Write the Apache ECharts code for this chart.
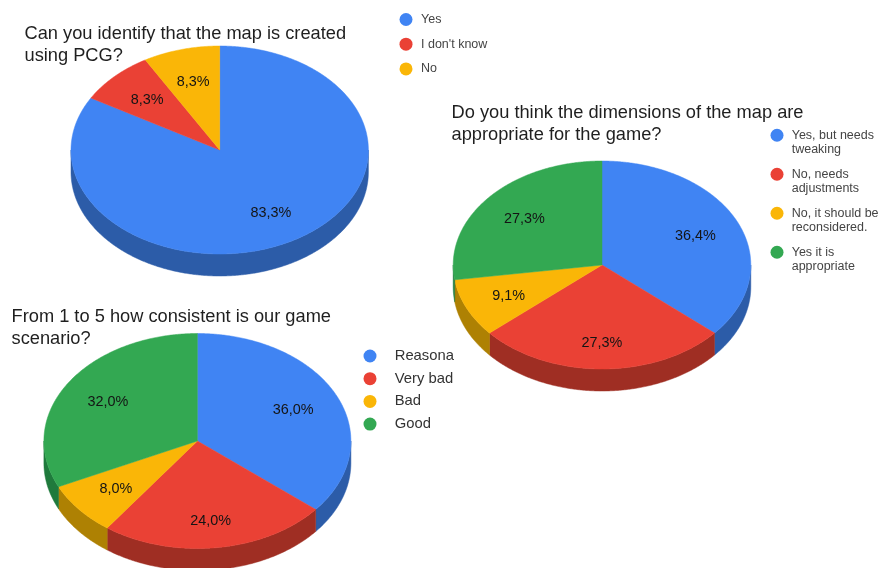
<!DOCTYPE html>
<html>
<head>
<meta charset="utf-8">
<style>html,body{margin:0;padding:0;background:#fff}#chart{width:878px;height:568px}</style>
<script src="https://cdn.jsdelivr.net/npm/echarts@6/dist/echarts.min.js"></script>
</head>
<body>
<div id="chart"></div>
<script>
// Survey answers, as response counts per question
const pcgAnswers = ['Yes', "I don't know", 'No'];
const pcgCounts = [10, 1, 1];
const sizeAnswers = ['Yes, but needs\ntweaking', 'No, needs\nadjustments', 'No, it should be\nreconsidered.', 'Yes it is\nappropriate'];
const sizeCounts = [4, 3, 1, 3];
const storyAnswers = ['Reasona', 'Very bad', 'Bad', 'Good'];
const storyCounts = [9, 6, 2, 8];

const BLUE = '#4084f3', RED = '#ea4135', YELLOW = '#fab607', GREEN = '#33a852';
const pcgColors = [BLUE, RED, YELLOW];
const fourColors = [BLUE, RED, YELLOW, GREEN];
const wallColors = {};
wallColors[BLUE] = '#2c5ca8';
wallColors[RED] = '#9f2e23';
wallColors[YELLOW] = '#ae8103';
wallColors[GREEN] = '#1f7a3c';

const FONT = '"Liberation Sans", Arial, sans-serif';
const DEPTH = 22;

// One tilted pie: centre, ellipse radii and the answers it shows
const pies = [
  { names: pcgAnswers, counts: pcgCounts, colors: pcgColors, cx: 219.7, cy: 150, rx: 148.7, ry: 104 },
  { names: sizeAnswers, counts: sizeCounts, colors: fourColors, cx: 602, cy: 265, rx: 148.8, ry: 104 },
  { names: storyAnswers, counts: storyCounts, colors: fourColors, cx: 197.4, cy: 441, rx: 153.5, ry: 107.5 }
];

function arcPoints(pie, from, to, dy) {
  const pts = [];
  const steps = Math.max(2, Math.ceil((to - from) * 720));
  for (let i = 0; i <= steps; i++) {
    const a = (from + (to - from) * i / steps) * 2 * Math.PI;
    pts.push([pie.cx + pie.rx * Math.sin(a), pie.cy - pie.ry * Math.cos(a) + dy]);
  }
  return pts;
}

// Draws a slice from [startShare, endShare, share]: its outer wall, its face and its percentage
function sliceRenderer(pie, color) {
  return function (params, api) {
    const from = api.value(0), to = api.value(1), share = api.value(2);
    const children = [];
    const wallFrom = Math.max(from, 0.25), wallTo = Math.min(to, 0.75);
    if (wallTo > wallFrom) {
      const top = arcPoints(pie, wallFrom, wallTo, 0);
      const bottom = arcPoints(pie, wallFrom, wallTo, DEPTH).reverse();
      children.push({
        type: 'polygon',
        shape: { points: top.concat(bottom) },
        style: { fill: wallColors[color], stroke: wallColors[color], lineWidth: 0.5 }
      });
    }
    const face = [[pie.cx, pie.cy]].concat(arcPoints(pie, from, to, 0));
    children.push({
      type: 'polygon',
      shape: { points: face },
      style: { fill: color, stroke: color, lineWidth: 0.5 }
    });
    // Labels of slices facing the viewer sit a little further out
    const mid = (from + to) * Math.PI;
    const reachY = Math.abs(mid - Math.PI) < 0.35 ? 0.745 : 0.69;
    children.push({
      type: 'text',
      z2: 10,
      style: {
        x: pie.cx + 0.69 * pie.rx * Math.sin(mid),
        y: pie.cy - reachY * pie.ry * Math.cos(mid) + 1,
        text: (share * 100).toFixed(1).replace('.', ',') + '%',
        align: 'center',
        verticalAlign: 'middle',
        fill: '#141414',
        font: '14.4px ' + FONT
      }
    });
    return { type: 'group', children: children };
  };
}

const series = [];
pies.forEach(function (pie) {
  const total = pie.counts.reduce(function (a, b) { return a + b; }, 0);
  let used = 0;
  pie.counts.forEach(function (count, i) {
    const start = used / total;
    used += count;
    series.push({
      type: 'custom',
      name: pie.names[i],
      coordinateSystem: 'none',
      silent: true,
      itemStyle: { color: pie.colors[i] },
      data: [[start, used / total, count / total]],
      renderItem: sliceRenderer(pie, pie.colors[i])
    });
  });
});

function title(text, left, top) {
  return {
    text: text, left: left, top: top, padding: 0,
    textStyle: { fontFamily: FONT, fontSize: 18.25, fontWeight: 'normal', color: '#1f1f1f', lineHeight: 22 }
  };
}

const chart = echarts.init(document.getElementById('chart'), null, { renderer: 'canvas' });
chart.setOption({
  animation: false,
  backgroundColor: '#ffffff',
  title: [
    title('Can you identify that the map is created\nusing PCG?', 24.5, 23),
    title('Do you think the dimensions of the map are\nappropriate for the game?', 451.5, 102),
    title('From 1 to 5 how consistent is our game\nscenario?', 11.5, 305.5)
  ],
  legend: [
    {
      data: pcgAnswers, orient: 'vertical', left: 399.5, top: 13, padding: 0,
      icon: 'circle', itemWidth: 13, itemHeight: 13, itemGap: 11.7, selectedMode: false,
      textStyle: { fontFamily: FONT, fontSize: 12.5, color: '#444444', padding: [0, 0, 0, 3.5] }
    },
    {
      // A blank first line keeps each marker level with the first line of its answer
      data: sizeAnswers, orient: 'vertical', left: 770.5, top: 113.5, padding: 0,
      icon: 'circle', itemWidth: 13, itemHeight: 13, itemGap: -4.5, selectedMode: false,
      formatter: function (name) { return '\n' + name; },
      textStyle: { fontFamily: FONT, fontSize: 12.5, color: '#444444', lineHeight: 14.5, padding: [0, 0, 0, 3.2] }
    },
    {
      data: storyAnswers, orient: 'vertical', left: 363.5, top: 348.5, padding: 0,
      icon: 'circle', itemWidth: 13, itemHeight: 13, itemGap: 7.7, selectedMode: false,
      textStyle: { fontFamily: FONT, fontSize: 14.8, color: '#333333', padding: [0, 0, 0, 13.2] }
    }
  ],
  series: series
});
</script>
</body>
</html>
